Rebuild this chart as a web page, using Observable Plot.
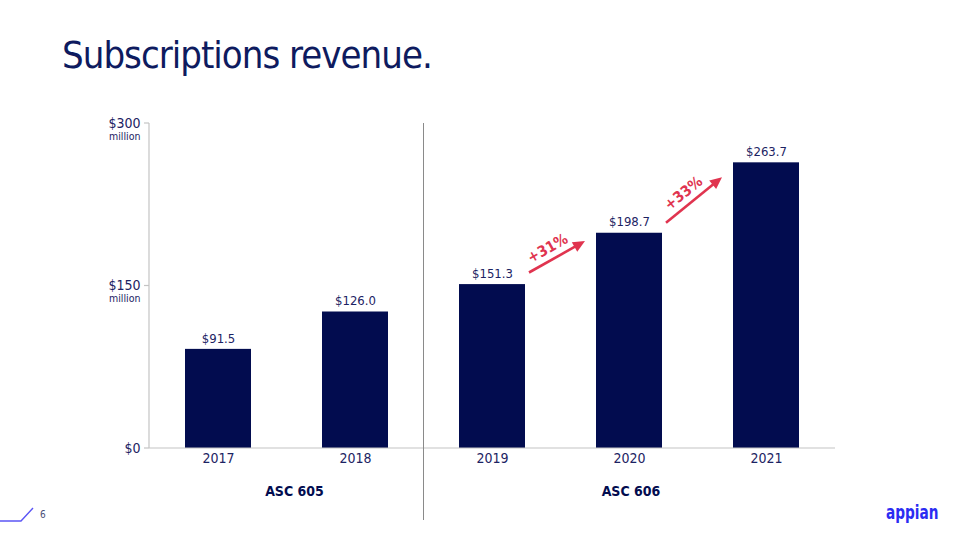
<!DOCTYPE html>
<html><head><meta charset="utf-8">
<script src="https://cdn.jsdelivr.net/npm/d3@7"></script>
<script src="https://cdn.jsdelivr.net/npm/@observablehq/plot@0.6"></script>
<style>
html,body{margin:0;padding:0;background:#fff;}
#page{position:relative;width:960px;height:540px;overflow:hidden;font-family:"DejaVu Sans Condensed","DejaVu Sans",sans-serif;}
#title{box-sizing:border-box;height:100px;padding:35px 0 0 62px;font-size:38px;line-height:40px;letter-spacing:-1px;color:#0e1b5f;white-space:nowrap;}
#chart svg{display:block;}
#pagenum{position:absolute;left:40px;top:509px;font-size:10px;color:#4a4f78;}
#logo{position:absolute;left:886px;top:500px;font-size:20px;font-weight:bold;color:#2b2cf2;transform:scaleX(0.76);transform-origin:left top;}
#deco{position:absolute;left:0;top:500px;}
</style>
</head><body>
<div id="page">
  <div id="title">Subscriptions revenue.</div>
  <div id="chart"></div>
  <svg id="deco" width="40" height="30"><polyline points="0,21 21,21 33,8" fill="none" stroke="#5b55f5" stroke-width="1.4"/></svg>
  <div id="pagenum">6</div>
  <div id="logo">appian</div>
</div>
<script>
const years = ["2017", "2018", "2019", "2020", "2021"];
const revenue = [91.5, 126.0, 151.3, 198.7, 263.7];
const barLabels = ["$91.5", "$126.0", "$151.3", "$198.7", "$263.7"];
const yTicks = [0, 150, 300];
const yTickLabels = ["$0", "$150", "$300"];
const yTickUnits = ["", "million", "million"];
const groupLabels = ["ASC 605", "ASC 606"];
const groupYears = [["2017", "2018"], ["2019", "2020", "2021"]];
const growthFrom = ["2019", "2020"];
const growthTo = ["2020", "2021"];
const growthLabels = ["+31%", "+33%"];
const growthStartValue = [162, 208];
const growthEndValue = [191, 250];

const FONT = '"DejaVu Sans Condensed","DejaVu Sans",sans-serif';
const BAR = "#020c4f";
const TEXT = "#1c2363";
const GRAY = "#c4c4c4";
const RED = "#e0344f";

const data = years.map((y, i) => ({year: y, value: revenue[i], label: barLabels[i]}));
const ticks = yTicks.map((v, i) => ({v, label: yTickLabels[i], unit: yTickUnits[i]}));
const growth = growthFrom.map((f, i) => ({from: f, to: growthTo[i], label: growthLabels[i], v1: growthStartValue[i], v2: growthEndValue[i]}));
const groups = groupLabels.map((l, i) => ({label: l, years: groupYears[i]}));

function overlay(index, scales, values, dimensions) {
  const x = scales.x, y = scales.y;
  const bw = typeof x.bandwidth === "function" ? x.bandwidth() : x.bandwidth;
  const {width, height, marginLeft, marginRight} = dimensions;
  const top = y(d3.max(yTicks)), base = y(0);
  const g = d3.create("svg:g");
  g.append("line").attr("x1", marginLeft).attr("x2", marginLeft).attr("y1", top).attr("y2", base)
    .attr("stroke", GRAY).attr("stroke-width", 1.2);
  for (const t of yTicks) {
    g.append("line").attr("x1", marginLeft - 5).attr("x2", marginLeft).attr("y1", y(t)).attr("y2", y(t))
      .attr("stroke", GRAY).attr("stroke-width", 1.2);
  }
  g.append("line").attr("x1", marginLeft).attr("x2", width - marginRight).attr("y1", base).attr("y2", base)
    .attr("stroke", GRAY).attr("stroke-width", 1.2);
  const dx = (x(groupYears[0][groupYears[0].length - 1]) + bw + x(groupYears[1][0])) / 2;
  g.append("line").attr("x1", dx).attr("x2", dx).attr("y1", top).attr("y2", height - 20)
    .attr("stroke", "#8a8a8a").attr("stroke-width", 1);
  for (const gr of groups) {
    const cx = d3.mean(gr.years, yr => x(yr) + bw / 2);
    g.append("text").attr("x", cx + (gr.years.length === 2 ? 8 : 2)).attr("y", base + 43)
      .attr("text-anchor", "middle").attr("dominant-baseline", "central")
      .attr("font-size", 14).attr("font-weight", "bold").attr("fill", BAR).attr("font-family", FONT)
      .text(gr.label);
  }
  for (const a of growth) {
    const x1 = x(a.from) + bw + 4, x2 = x(a.to) - 11;
    const y1 = y(a.v1), y2 = y(a.v2);
    const len = Math.hypot(x2 - x1, y2 - y1);
    const ux = (x2 - x1) / len, uy = (y2 - y1) / len;
    const head = 12, hw = 5.5;
    const bx = x2 - ux * head, by = y2 - uy * head;
    g.append("line").attr("x1", x1).attr("y1", y1).attr("x2", bx + ux * 2).attr("y2", by + uy * 2)
      .attr("stroke", RED).attr("stroke-width", 2.6);
    g.append("polygon").attr("fill", RED)
      .attr("points", [[x2, y2], [bx - uy * hw, by + ux * hw], [bx + uy * hw, by - ux * hw]].map(p => p.join(",")).join(" "));
    const ang = Math.atan2(y2 - y1, x2 - x1) * 180 / Math.PI;
    const mx = (x1 + x2) / 2 + uy * 12 - ux * 4, my = (y1 + y2) / 2 - ux * 12 - uy * 4;
    g.append("text").attr("transform", `translate(${mx},${my}) rotate(${ang})`)
      .attr("text-anchor", "middle").attr("dominant-baseline", "central")
      .attr("font-size", 15).attr("font-weight", "bold").attr("fill", RED).attr("font-family", FONT)
      .text(a.label);
  }
  return g.node();
}

const chart = Plot.plot({
  width: 960, height: 440,
  marginTop: 23, marginBottom: 92, marginLeft: 149, marginRight: 125,
  style: {fontFamily: FONT, background: "transparent", overflow: "visible"},
  x: {domain: years, paddingInner: 0.52, paddingOuter: 0.26, axis: null},
  y: {domain: [0, 300], axis: null},
  marks: [
    Plot.barY(data, {x: "year", y: "value", fill: BAR}),
    overlay,
    Plot.text(data, {x: "year", y: "value", text: "label", dy: -11, fontSize: 13, fill: TEXT}),
    Plot.text(data, {x: "year", text: "year", frameAnchor: "bottom", dy: 14, fontSize: 14, fill: TEXT}),
    Plot.text(ticks, {y: "v", text: "label", frameAnchor: "left", textAnchor: "end", dx: -9, fontSize: 14, fill: TEXT}),
    Plot.text(ticks, {y: "v", text: "unit", frameAnchor: "left", textAnchor: "end", dx: -9, dy: 13, fontSize: 10.5, fill: TEXT})
  ]
});
document.getElementById("chart").appendChild(chart);
</script>
</body></html>
